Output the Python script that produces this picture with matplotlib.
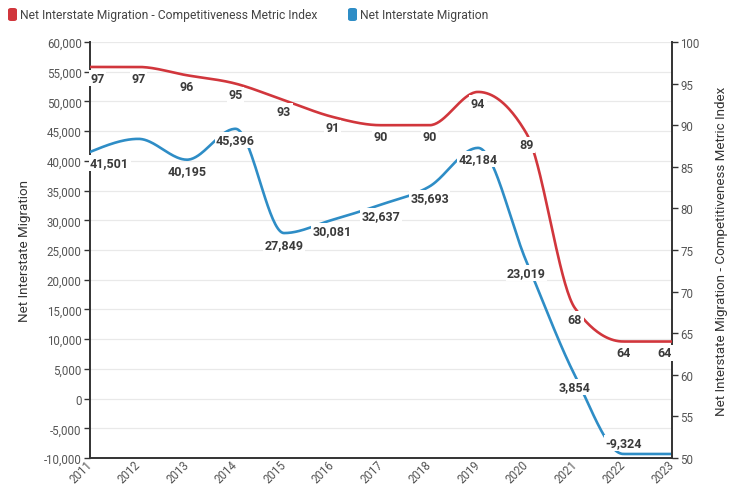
import numpy as np
import matplotlib

matplotlib.use("Agg")
import matplotlib.pyplot as plt
from matplotlib.patches import FancyBboxPatch
from matplotlib.ticker import FuncFormatter, MultipleLocator

plt.rcParams["font.family"] = ["Roboto", "DejaVu Sans"]

years = [2011, 2012, 2013, 2014, 2015, 2016, 2017, 2018, 2019, 2020, 2021, 2022, 2023]
migration = [41501, 43700, 40195, 45396, 27849, 30081, 32637, 35693, 42184, 23019, 3854, -9324, -9324]
index = [97, 97, 96, 95, 93, 91, 90, 90, 94, 89, 68, 64, 64]
# which points carry a value label
migration_labeled = [True, False, True, True, True, True, True, True, True, True, True, True, False]
index_labeled = [True] * len(years)

RED = "#d1363c"
BLUE = "#2e8dc6"
GRID = "#e9e9e9"
AXIS = "#333333"
TICK = "#555555"


def monotone_x(x, y, n=40):
    """Monotone cubic curve through the points (same idea as d3 curveMonotoneX)."""
    x = np.asarray(x, float)
    y = np.asarray(y, float)
    h = np.diff(x)
    s = np.diff(y) / h
    t = np.zeros_like(y)
    for i in range(1, len(x) - 1):
        p = (s[i - 1] * h[i] + s[i] * h[i - 1]) / (h[i - 1] + h[i])
        t[i] = (np.sign(s[i - 1]) + np.sign(s[i])) * min(abs(s[i - 1]), abs(s[i]), 0.5 * abs(p))
    t[0] = (3 * s[0] - t[1]) / 2
    t[-1] = (3 * s[-1] - t[-2]) / 2
    xs, ys = [], []
    for i in range(len(x) - 1):
        u = np.linspace(0, 1, n)
        h00 = 2 * u**3 - 3 * u**2 + 1
        h10 = u**3 - 2 * u**2 + u
        h01 = -2 * u**3 + 3 * u**2
        h11 = u**3 - u**2
        xs.append(x[i] + u * h[i])
        ys.append(h00 * y[i] + h10 * h[i] * t[i] + h01 * y[i + 1] + h11 * h[i] * t[i + 1])
    return np.concatenate(xs), np.concatenate(ys)


fig = plt.figure(figsize=(7.4, 4.85), dpi=100)
ax = fig.add_axes([90 / 740, 1 - 459 / 485, (672 - 90) / 740, (459 - 43) / 485])
ax2 = ax.twinx()

# left axis: migration
bx, by = monotone_x(years, migration)
ax.plot(bx, by, color=BLUE, lw=1.9, solid_capstyle="round", zorder=3)
ax.set_xlim(2011, 2023)
ax.set_ylim(-10000, 60000)
ax.yaxis.set_major_locator(MultipleLocator(5000))
ax.yaxis.set_major_formatter(FuncFormatter(lambda v, p: f"{int(v):,}"))
ax.grid(axis="y", color=GRID, lw=0.9)
ax.set_axisbelow(True)
ax.set_xticks(years)
ax.set_xticklabels([str(y) for y in years], rotation=45, ha="right", va="center",
                   rotation_mode="anchor")
ax.tick_params(axis="x", length=0, pad=3, labelsize=8.3, labelcolor=TICK)
ax.tick_params(axis="y", length=4, width=1, color=AXIS, labelsize=8.3, labelcolor=TICK, pad=2)
ax.set_ylabel("Net Interstate Migration", fontsize=9.6, color=AXIS, labelpad=9)
for side in ("top", "right"):
    ax.spines[side].set_visible(False)
for side in ("left", "bottom"):
    ax.spines[side].set_color(AXIS)
    ax.spines[side].set_linewidth(1.4)

# right axis: index
rx, ry = monotone_x(years, index)
ax2.plot(rx, ry, color=RED, lw=1.9, solid_capstyle="round", zorder=3)
ax2.set_ylim(50, 100)
ax2.yaxis.set_major_locator(MultipleLocator(5))
ax2.tick_params(axis="y", length=4, width=1, color=AXIS, labelsize=8.3, labelcolor=TICK, pad=2)
ax2.set_ylabel("Net Interstate Migration - Competitiveness Metric Index", fontsize=9.6,
               color=AXIS, labelpad=11)
for side in ("top", "left", "bottom"):
    ax2.spines[side].set_visible(False)
ax2.spines["right"].set_color(AXIS)
ax2.spines["right"].set_linewidth(1.4)


def _labels(vals, flags, trans, fmt, ymin):
    for i, (yr, v, on) in enumerate(zip(years, vals, flags)):
        if not on:
            continue
        ha = "left" if i == 0 else ("right" if i == len(years) - 1 else "center")
        # labels sit under the point unless that would push them past the bottom
        dy = 8 if v - ymin < 0.05 * (ax.get_ylim()[1] - ax.get_ylim()[0]) else -8
        ax2.annotate(fmt(v), (yr, v), xycoords=trans, xytext=(0, dy),
                     textcoords="offset points", ha=ha, va="center",
                     fontsize=9, fontweight="bold", color="#3a3a3a", zorder=6,
                     annotation_clip=False,
                     bbox=dict(boxstyle="square,pad=0.12", fc="white", ec="none"))


_labels(migration, migration_labeled, ax.transData, lambda v: f"{v:,}", -10000)
_labels(index, index_labeled, ax2.transData, lambda v: f"{v}", -1e9)

# legend along the top
def _legend_item(x, color, text):
    fig.patches.append(FancyBboxPatch((x / 740, 1 - 22 / 485), 9 / 740, 13 / 485,
                                      boxstyle="round,pad=0,rounding_size=0.004",
                                      transform=fig.transFigure, fc=color, ec="none"))
    fig.text((x + 12) / 740, 1 - 15 / 485, text, fontsize=8.7, color="#444444",
             ha="left", va="center")


_legend_item(8, RED, "Net Interstate Migration - Competitiveness Metric Index")
_legend_item(348, BLUE, "Net Interstate Migration")

fig.savefig("out.png", dpi=100)
